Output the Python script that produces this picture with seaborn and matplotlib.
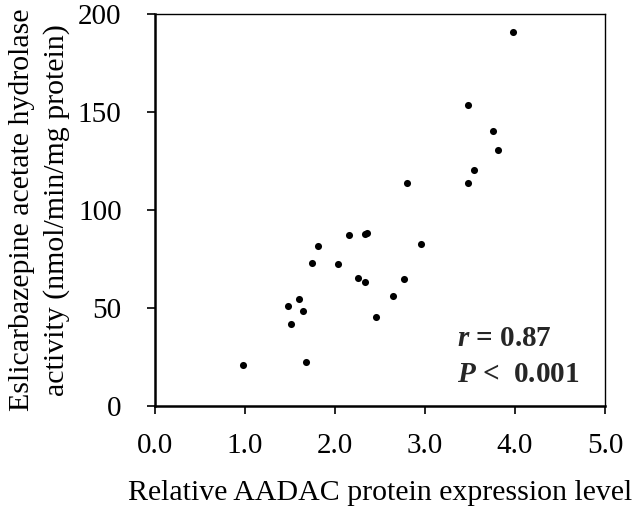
import matplotlib
matplotlib.use("Agg")
import matplotlib.pyplot as plt
import seaborn as sns
import pandas as pd

aadac_level = [0.98, 1.48, 1.51, 1.60, 1.64, 1.68, 1.74, 1.81, 2.03, 2.16, 2.26, 2.33,
               2.33, 2.36, 2.46, 2.64, 2.77, 2.96, 2.80, 3.48, 3.54, 3.48, 3.76, 3.81, 3.98]
hydrolase_activity = [20.8, 50.8, 41.6, 54.5, 48.4, 22.3, 73.0, 81.5, 72.1, 87.4, 65.3, 63.1,
                      87.6, 88.3, 45.3, 56.1, 64.6, 82.8, 113.5, 113.5, 120.5, 153.4, 140.4, 130.4, 191.0]

x_ticks = [0, 1, 2, 3, 4, 5]
x_tick_labels = ["0.0", "1.0", "2.0", "3.0", "4.0", "5.0"]
y_ticks = [0, 50, 100, 150, 200]

df = pd.DataFrame({"x": aadac_level, "y": hydrolase_activity})

sns.set_style("ticks")
plt.rcParams["font.family"] = ["Liberation Serif", "DejaVu Serif"]
plt.rcParams["mathtext.fontset"] = "custom"
plt.rcParams["mathtext.it"] = "Liberation Serif:italic:bold"
plt.rcParams["mathtext.rm"] = "Liberation Serif:bold"
plt.rcParams["mathtext.bf"] = "Liberation Serif:bold"

FS = 21
LFS = 21.5

fig = plt.figure(figsize=(6.37, 5.08), dpi=100)
ax = fig.add_axes([155 / 637, 1 - 405.7 / 508, 450 / 637, 391.7 / 508])

sns.scatterplot(data=df, x="x", y="y", ax=ax, color="black", s=26, edgecolor="black",
                linewidth=0, legend=False)

ax.set_xlim(0, 5)
ax.set_ylim(0, 200)
ax.set_xticks(x_ticks)
ax.set_xticklabels(x_tick_labels)
ax.set_yticks(y_ticks)
for side in ["top", "right", "left", "bottom"]:
    ax.spines[side].set_visible(True)
    ax.spines[side].set_color("black")
ax.spines["top"].set_linewidth(1.0)
ax.spines["right"].set_linewidth(1.0)
ax.spines["left"].set_linewidth(1.8)
ax.spines["bottom"].set_linewidth(1.8)
ax.tick_params(axis="both", direction="out", length=6, width=1.2, labelsize=FS,
               colors="black")
ax.tick_params(axis="x", pad=14)
ax.tick_params(axis="y", pad=18)

ax.set_xlabel("Relative AADAC protein expression level", fontsize=LFS, labelpad=15,
              color="black")
ax.set_ylabel("Eslicarbazepine acetate hydrolase\nactivity (nmol/min/mg protein)",
              fontsize=LFS, labelpad=6, color="black", linespacing=1.38)

ax.text(0.671, 0.152, r"$r$ = 0.87", transform=ax.transAxes, fontsize=FS,
        fontweight="bold", ha="left", va="baseline")
ax.text(0.671, 0.060, r"$P$ <  0.001", transform=ax.transAxes, fontsize=FS,
        fontweight="bold", ha="left", va="baseline")

fig.savefig("out.png", dpi=100)
